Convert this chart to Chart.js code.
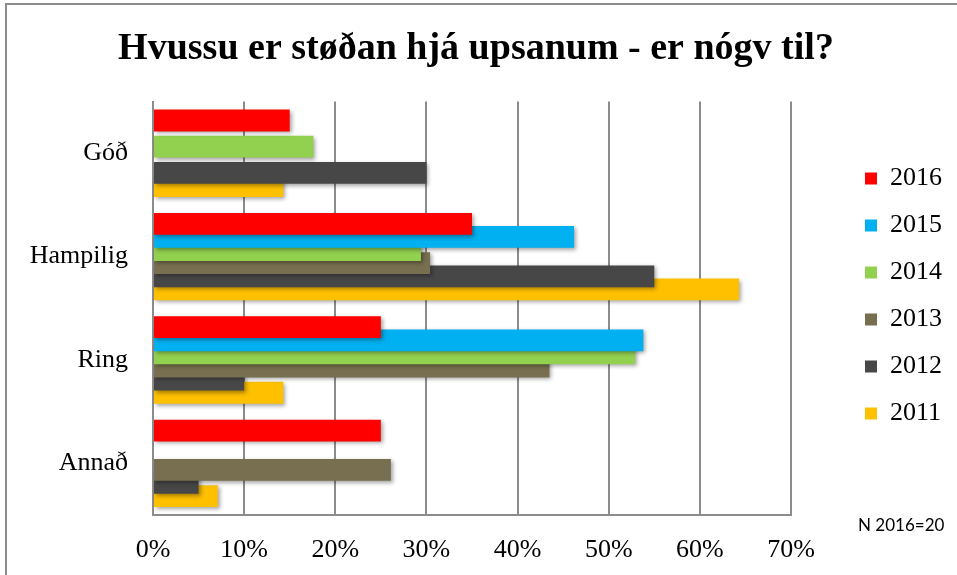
<!DOCTYPE html>
<html>
<head>
<meta charset="utf-8">
<script src="https://cdn.jsdelivr.net/npm/chart.js@4/dist/chart.umd.min.js"></script>
<style>
    html, body { margin: 0; padding: 0; background: #fff; }
    #wrap { position: relative; width: 957px; height: 575px; overflow: hidden; }
    #frame { position: absolute; left: 5px; top: 3px; width: 1000px; height: 700px;
             border-top: 2px solid #8c8c8c; border-left: 2px solid #8c8c8c; }
    #note { position: absolute; left: 858px; top: 514px; font: 17px Lato, sans-serif; color: #000; }
    canvas { position: absolute; left: 0; top: 0; }
</style>
</head>
<body>
<div id="wrap">
    <div id="frame"></div>
    <canvas id="chart" width="957" height="575"></canvas>
    <div id="note">N 2016=20</div>
</div>
<script>
// categories and series (percent); null = no bar
const categories = ['Góð', 'Hampilig', 'Ring', 'Annað'];
const seriesNames = ['2016', '2015', '2014', '2013', '2012', '2011'];
const seriesColors = ['#ff0000', '#00b0f0', '#92d050', '#776f4f', '#474747', '#ffc000'];
const values2016 = [15, 35, 25, 25];
const values2015 = [null, 46.2, 53.8, null];
const values2014 = [17.6, 29.4, 52.9, null];
const values2013 = [null, 30.4, 43.5, 26.1];
const values2012 = [30, 55, 10, 5];
const values2011 = [14.3, 64.3, 14.3, 7.1];
const xTicks = [0, 10, 20, 30, 40, 50, 60, 70];

const seriesValues = [values2016, values2015, values2014, values2013, values2012, values2011];
const serif = "'Liberation Serif', 'Times New Roman', serif";

// soft drop shadow under the bars, like the original
const barShadow = {
    id: 'barShadow',
    beforeDatasetsDraw(chart) {
        const ctx = chart.ctx;
        ctx.save();
        ctx.shadowColor = 'rgba(0,0,0,0.35)';
        ctx.shadowBlur = 4;
        ctx.shadowOffsetX = 2;
        ctx.shadowOffsetY = 2;
    },
    afterDatasetsDraw(chart) {
        chart.ctx.restore();
    }
};

new Chart(document.getElementById('chart').getContext('2d'), {
    type: 'bar',
    data: {
        labels: categories,
        datasets: seriesNames.map((name, i) => ({
            label: name,
            data: seriesValues[i],
            backgroundColor: seriesColors[i],
            borderWidth: 0,
            categoryPercentage: 0.761,
            barPercentage: 1.66
        }))
    },
    options: {
        indexAxis: 'y',
        responsive: false,
        animation: false,
        layout: { padding: { top: 26, bottom: 9, left: 0, right: 5 } },
        scales: {
            x: {
                min: 0,
                max: 70,
                afterBuildTicks: scale => { scale.ticks = xTicks.map(v => ({ value: v })); },
                grid: { color: '#8c8c8c', lineWidth: 2, drawTicks: false },
                border: { color: '#8c8c8c', width: 2 },
                ticks: {
                    padding: 20,
                    color: '#000',
                    font: { family: serif, size: 26 },
                    callback: v => v + '%'
                },
                afterFit: scale => { scale.height = 51; }
            },
            y: {
                grid: { display: false, drawTicks: false },
                border: { color: '#8c8c8c', width: 2 },
                ticks: { padding: 25, color: '#000', font: { family: serif, size: 26 } },
                afterFit: scale => { scale.width = 153; }
            },
            // empty spacer between plot and legend
            gap: {
                type: 'category',
                axis: 'y',
                position: 'right',
                grid: { display: false },
                border: { display: false },
                ticks: { display: false },
                afterFit: scale => { scale.width = 53; }
            }
        },
        plugins: {
            title: {
                display: true,
                text: 'Hvussu er støðan hjá upsanum - er nógv til?',
                color: '#000',
                font: { family: serif, size: 38, weight: 'bold' },
                padding: { top: 0, bottom: 30 }
            },
            legend: {
                position: 'right',
                labels: {
                    boxWidth: 12,
                    boxHeight: 12,
                    padding: 21,
                    color: '#000',
                    font: { family: serif, size: 26 }
                }
            },
            tooltip: { enabled: false }
        }
    },
    plugins: [barShadow]
});
</script>
</body>
</html>
